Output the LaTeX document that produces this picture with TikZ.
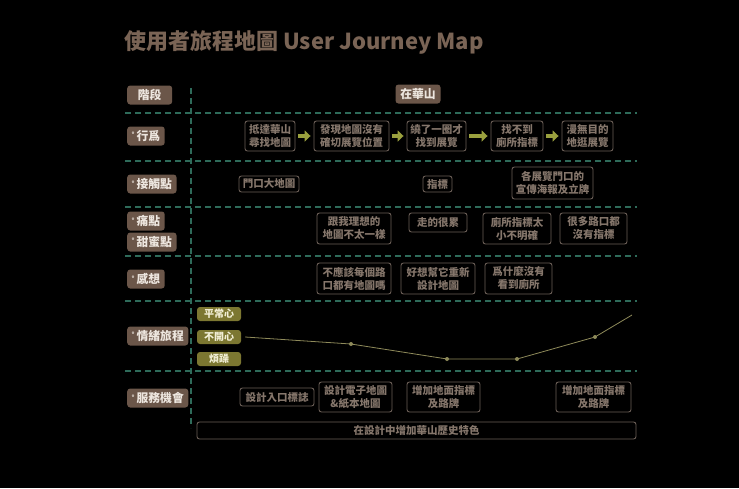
\documentclass[tikz,border=0pt]{standalone}
\usepackage{fontspec}
\setmainfont{Noto Sans CJK TC}
\usetikzlibrary{arrows.meta}
\definecolor{titlec}{HTML}{7A6455}
\definecolor{labfill}{HTML}{6B5649}
\definecolor{labtext}{HTML}{EDE6DF}
\definecolor{boxline}{HTML}{6A5E56}
\definecolor{boxtext}{HTML}{85766B}
\definecolor{dashc}{HTML}{2E6B5A}
\definecolor{olivef}{HTML}{7C7731}
\definecolor{olivet}{HTML}{F2EFD6}
\definecolor{arrowc}{HTML}{9AA03E}
\definecolor{emoc}{HTML}{8E8A5A}
\newcommand{\dg}{\raisebox{2.5pt}{\fontsize{7}{7}\selectfont °}\,}
\begin{document}
\begin{tikzpicture}[x=1pt,y=-1pt,
 lab/.style={fill=labfill, text=labtext, rounded corners=3pt, font=\bfseries\fontsize{11.8}{13}\selectfont, inner xsep=4.5pt, inner ysep=0pt, minimum height=19pt, anchor=west},
 jbox/.style={draw=boxline, line width=0.9pt, rounded corners=2.5pt, text=boxtext, font=\bfseries\fontsize{10.5}{13}\selectfont, align=center, inner sep=0pt},
 sz/.style 2 args={minimum width=#1pt, minimum height=#2pt},
 emo/.style={fill=olivef, text=olivet, rounded corners=3pt, font=\bfseries\fontsize{10}{12}\selectfont, inner sep=0pt, minimum width=44pt, minimum height=14pt},
 sep/.style={draw=dashc, line width=1.3pt, dash pattern=on 6pt off 4pt},
 flow/.style={draw=arrowc, line width=4.5pt, -{Triangle[length=6pt,width=11pt]}},
 emoline/.style={draw=emoc, line width=0.8pt},
 dot/.style={circle, fill=emoc, inner sep=0pt, minimum size=4pt}
]
\useasboundingbox[fill=black] (0,0) rectangle (739,488);

\node[anchor=west, text=titlec, font=\bfseries\fontsize{22}{24}\selectfont, inner sep=0pt] (title) at (124,42) {使用者旅程地圖 User Journey Map};

% separators
\foreach \yy in {113,161,207,256,301,371} \draw[sep] (125,\yy) -- (637,\yy);
\draw[sep] (191,88) -- (191,428);

% left labels
\node[lab, minimum width=45pt] (stage) at (127,95) {階段};
\node[lab] (act) at (127,136) {\dg 行爲};
\node[lab] (touch) at (127,184) {\dg 接觸點};
\node[lab] (pain) at (127,221) {\dg 痛點};
\node[lab] (sweet) at (127,242) {\dg 甜蜜點};
\node[lab] (think) at (127,279) {\dg 感想};
\node[lab] (emo) at (127,336) {\dg 情緒旅程};
\node[lab] (serv) at (127,398) {\dg 服務機會};

\node[lab, anchor=center, minimum width=45pt] (hua) at (418,94) {在華山};

% actions
\node[jbox, sz={50}{30}] (b1) at (270,136) {抵達華山\\尋找地圖};
\node[jbox, sz={75}{30}] (b2) at (351.5,136) {發現地圖沒有\\確切展覽位置};
\node[jbox, sz={59}{30}] (b3) at (436.5,136) {繞了一圈才\\找到展覽};
\node[jbox, sz={52}{30}] (b4) at (517,136) {找不到\\廁所指標};
\node[jbox, sz={51}{30}] (b5) at (587.5,136) {漫無目的\\地逛展覽};
\draw[flow] ([xshift=3pt]b1.east) -- ([xshift=-3pt]b2.west);
\draw[flow] ([xshift=3pt]b2.east) -- ([xshift=-3pt]b3.west);
\draw[flow] ([xshift=3pt]b3.east) -- ([xshift=-3pt]b4.west);
\draw[flow] ([xshift=3pt]b4.east) -- ([xshift=-3pt]b5.west);

% touch points
\node[jbox, sz={60}{16}] (t1) at (269,184) {門口大地圖};
\node[jbox, sz={29}{16}] (t2) at (437.5,184) {指標};
\node[jbox, sz={81}{32}] (t3) at (552.5,183) {各展覽門口的\\宣傳海報及立牌};

% pains
\node[jbox, sz={74}{31}] (p1) at (354,228.5) {跟我理想的\\地圖不太一樣};
\node[jbox, sz={58}{19}] (p2) at (438,222.5) {走的很累};
\node[jbox, sz={68}{31}] (p3) at (517,228.5) {廁所指標太\\小不明確};
\node[jbox, sz={67}{31}] (p4) at (593.5,228.5) {很多路口都\\沒有指標};

% thoughts
\node[jbox, sz={74}{31}] (f1) at (354,278.5) {不應該每個路\\口都有地圖嗎};
\node[jbox, sz={74}{31}] (f2) at (438,278.5) {好想幫它重新\\設計地圖};
\node[jbox, sz={67}{31}] (f3) at (518.5,278.5) {爲什麼沒有\\看到廁所};

% emotions
\node[emo] (e1) at (219,314) {平常心};
\node[emo] (e2) at (219,337) {不開心};
\node[emo] (e3) at (219,359) {煩躁};
\node[dot] (d1) at (351,344) {};
\node[dot] (d2) at (447,359) {};
\node[dot] (d3) at (517,359) {};
\node[dot] (d4) at (595,337) {};
\coordinate (dend) at (632,315);
\draw[emoline] ([xshift=4pt]e2.east) -- (d1.center) -- (d2.center) -- (d3.center) -- (d4.center) -- (dend);

% services
\node[jbox, sz={74}{18}] (s1) at (277,397) {設計入口標誌};
\node[jbox, sz={73}{30}] (s2) at (355.5,397) {設計電子地圖\\\&紙本地圖};
\node[jbox, sz={73}{30}] (s3) at (443.5,397) {增加地面指標\\及路牌};
\node[jbox, sz={75}{30}] (s4) at (593.5,397) {增加地面指標\\及路牌};
\node[jbox, sz={439}{17}] (s5) at (416.5,430.5) {在設計中增加華山歷史特色};
\end{tikzpicture}
\end{document}
